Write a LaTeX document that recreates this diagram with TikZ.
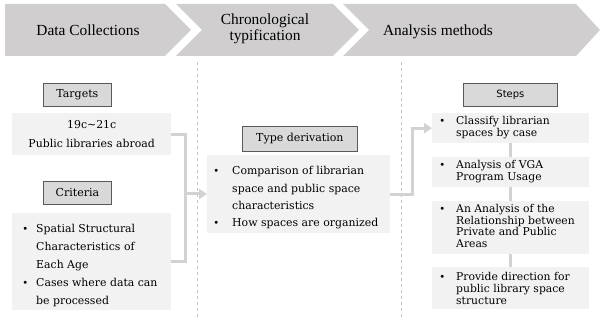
\documentclass[tikz,border=0pt]{standalone}
\usepackage{fontspec}
\setmainfont{DejaVu Serif}
\newfontfamily\headf{Liberation Serif}
\newfontfamily\stepsf{DejaVu Sans}
\usetikzlibrary{arrows.meta,calc}
\definecolor{chev}{RGB}{208,206,206}
\definecolor{hdr}{RGB}{217,217,217}
\definecolor{cbg}{RGB}{242,242,242}
\definecolor{connc}{RGB}{210,210,210}
\definecolor{dashc}{RGB}{195,195,195}
\newcommand\bul{\makebox[6pt][c]{\fontsize{10}{10}\selectfont\textbullet}}
\begin{document}
\begin{tikzpicture}[x=1pt,y=-1pt,
 chevron/.style={fill=chev, draw=none},
 chevtext/.style={font=\headf\fontsize{15.4}{16}\selectfont, align=center, inner sep=0},
 hdrbox/.style={fill=hdr, draw=black!65, line width=0.8pt, inner sep=0, anchor=north west, font=\fontsize{11}{12}\selectfont},
 cbox/.style={fill=cbg, draw=none, inner sep=0, anchor=north west},
 body/.style={font=\fontsize{10.9}{18}\selectfont, inner sep=0, anchor=west},
 stepbody/.style={font=\fontsize{10.8}{11.8}\selectfont, inner sep=0, anchor=west},
 connline/.style={draw=connc, line width=3pt},
 connarrow/.style={connline, -{Triangle[length=8pt,width=10pt]}},
 divider/.style={draw=dashc, dashed, line width=0.6pt},
]
\useasboundingbox (0,0) rectangle (600,320);

% chevrons
\fill[chevron] (5,4) -- (165,4) -- (191,30) -- (165,56) -- (5,56) -- cycle;
\fill[chevron] (176,4) -- (333,4) -- (359,30) -- (333,56) -- (176,56) -- (202,30) -- cycle;
\fill[chevron] (343,4) -- (576,4) -- (600,30) -- (576,56) -- (343,56) -- (369,30) -- cycle;
\node[chevtext, anchor=base] (h1) at (88,36) {Data Collections};
\node[chevtext] (h2) at (265,29) {Chronological\\typification};
\node[chevtext, anchor=base] (h3) at (438,36) {Analysis methods};

% dividers
\draw[divider] (197,62) -- (197,320);
\draw[divider] (401,62) -- (401,320);

% left column
\node[hdrbox, minimum width=68pt, minimum height=23pt] (thdr) at (43,83) {Targets};
\node[cbox, minimum width=159pt, minimum height=42pt, align=center,
      font=\fontsize{10.9}{19}\selectfont] (tgt) at (12,113) {19c\textasciitilde21c\\Public libraries abroad};
\node[hdrbox, minimum width=68pt, minimum height=23pt] (chdr) at (43,181) {Criteria};
\node[cbox, minimum width=159pt, minimum height=97pt] (crit) at (12,213) {};
\node[body] (critt) at ($(crit.west)+(10,3)$) {\begin{tabular}{@{}l@{\hspace{8pt}}l@{}}
\bul & Spatial Structural\\
 & Characteristics of\\
 & Each Age\\
\bul & Cases where data can\\
 & be processed
\end{tabular}};

% middle column
\node[hdrbox, minimum width=115pt, minimum height=25pt] (tdhdr) at (242,126) {Type derivation};
\node[cbox, minimum width=183pt, minimum height=78pt] (td) at (207,155) {};
\node[body, font=\fontsize{10.9}{17.3}\selectfont] (tdt) at ($(td.west)+(6,3)$) {\begin{tabular}{@{}l@{\hspace{13pt}}l@{}}
\bul & Comparison of librarian\\
 & space and public space\\
 & characteristics\\
\bul & How spaces are organized
\end{tabular}};

% right column
\node[hdrbox, minimum width=94pt, minimum height=23pt, font=\stepsf\fontsize{10}{12}\selectfont] (shdr) at (463,83) {Steps};
\node[cbox, minimum width=157pt, minimum height=30pt] (s1) at (432,113) {};
\node[cbox, minimum width=157pt, minimum height=30pt] (s2) at (432,157) {};
\node[cbox, minimum width=157pt, minimum height=53pt] (s3) at (432,201) {};
\node[cbox, minimum width=157pt, minimum height=42pt] (s4) at (432,267) {};
\node[stepbody] (s1t) at ($(s1.west)+(7,0)$) {\begin{tabular}{@{}l@{\hspace{11pt}}l@{}}
\bul & Classify librarian\\ & spaces by case\end{tabular}};
\node[stepbody] (s2t) at ($(s2.west)+(7,0)$) {\begin{tabular}{@{}l@{\hspace{11pt}}l@{}}
\bul & Analysis of VGA\\ & Program Usage\end{tabular}};
\node[stepbody] (s3t) at ($(s3.west)+(7,0)$) {\begin{tabular}{@{}l@{\hspace{11pt}}l@{}}
\bul & An Analysis of the\\ & Relationship between\\ & Private and Public\\ & Areas\end{tabular}};
\node[stepbody] (s4t) at ($(s4.west)+(7,2)$) {\begin{tabular}{@{}l@{\hspace{11pt}}l@{}}
\bul & Provide direction for\\ & public library space\\ & structure\end{tabular}};

% connectors
\coordinate (j) at (185,194);
\draw[connline] (tgt.east) -| (j) |- (crit.east);
\draw[connarrow] (j) -- (j -| td.west);
\coordinate (k) at (412,194);
\draw[connarrow] (td.east) -| (k |- s1.west) -- (s1.west);
\draw[connline] (s1.south) -- (s2.north);
\draw[connline] (s2.south) -- (s3.north);
\draw[connline] (s3.south) -- (s4.north);
\end{tikzpicture}
\end{document}
